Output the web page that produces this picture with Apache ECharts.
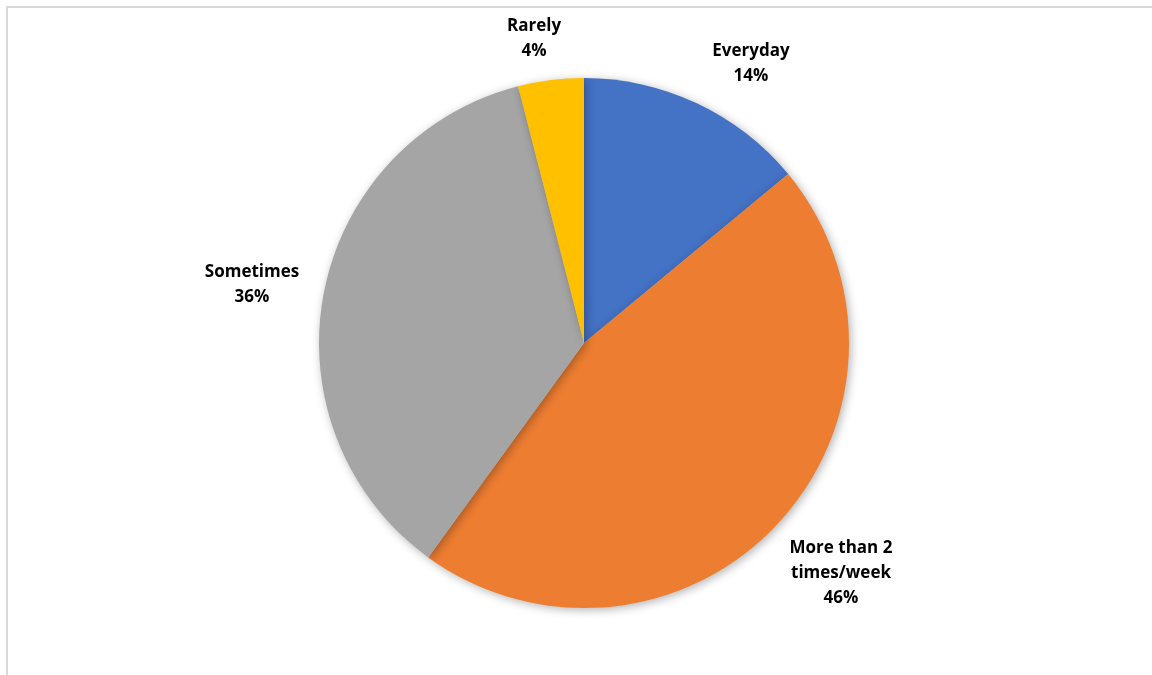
<!DOCTYPE html>
<html>
<head>
<meta charset="utf-8">
<script src="https://cdn.jsdelivr.net/npm/echarts@6/dist/echarts.min.js"></script>
<style>
  html, body { margin: 0; padding: 0; background: #fff; }
  #frame { position: absolute; left: 6px; top: 6px; width: 1146px; height: 669px;
           border-left: 2px solid #d9d9d9; border-top: 2px solid #d9d9d9; }
  #chart { position: absolute; left: 0; top: 0; width: 1152px; height: 675px; }
</style>
</head>
<body>
<div id="frame"></div>
<div id="chart"></div>
<script>
const categories = ['Everyday', 'More than 2 times/week', 'Sometimes', 'Rarely']
const shares = [14, 46, 36, 4]
const colors = ['#4472C4', '#ED7D31', '#A5A5A5', '#FFC000']

// where Excel put each data label (label centre)
const labelSpots = [[751, 64], [841, 573], [252, 285], [534, 39]]

// wrap a name into lines of at most n chars, like Excel does for long labels
function wrap(s, n) {
  let lines = [], cur = ''
  s.split(' ').forEach(w => {
    if (cur && (cur + ' ' + w).length > n) { lines.push(cur); cur = w }
    else cur = cur ? cur + ' ' + w : w
  })
  lines.push(cur)
  return lines.join('\n')
}

const myChart = echarts.init(document.getElementById('chart'), null, { renderer: 'canvas' })

myChart.setOption({
  animation: false,
  color: colors,
  series: [
    {
      type: 'pie',
      center: [584, 343],
      radius: 265,
      startAngle: 90,
      clockwise: true,
      data: categories.map((c, i) => ({ name: c, value: shares[i] })),
      itemStyle: {
        borderWidth: 0,
        shadowBlur: 10,
        shadowOffsetX: 2,
        shadowOffsetY: 2,
        shadowColor: 'rgba(0,0,0,0.3)'
      },
      label: {
        show: true,
        position: 'outside',
        formatter: p => wrap(p.name, 12) + '\n' + p.value + '%',
        fontFamily: 'Open Sans',
        fontWeight: 'bold',
        fontSize: 17,
        lineHeight: 25,
        color: '#000',
        align: 'center'
      },
      labelLine: { show: false },
      labelLayout: p => ({
        x: labelSpots[p.dataIndex][0],
        y: labelSpots[p.dataIndex][1],
        align: 'center',
        verticalAlign: 'middle'
      })
    }
  ]
})
</script>
</body>
</html>
